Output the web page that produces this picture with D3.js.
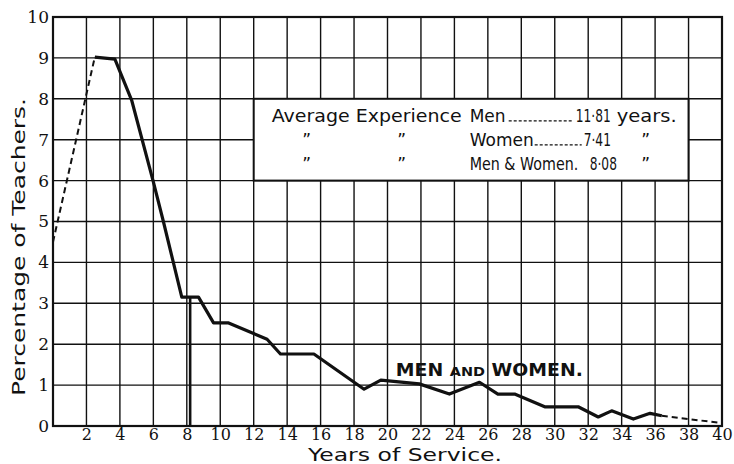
<!DOCTYPE html>
<html>
<head>
<meta charset="utf-8">
<script src="https://cdn.jsdelivr.net/npm/d3@7"></script>
<style>
  body { margin: 0; background: #fff; }
  svg { display: block; }
</style>
</head>
<body>
<div id="chart"></div>
<script>
// years of service vs percentage of teachers (men and women)
const leadYears = [0, 2.5]
const leadValues = [4.5, 9.02]

const years = [2.5, 3.7, 4.7, 6.0, 6.6, 7.7, 8.7, 9.6, 10.5, 12.8, 13.6, 15.6, 18.6, 19.6,
  21.9, 23.7, 25.5, 26.6, 27.6, 29.4, 31.4, 32.6, 33.4, 34.7, 35.7, 36.4]
const values = [9.02, 8.97, 7.97, 5.97, 5.0, 3.15, 3.15, 2.52, 2.52, 2.12, 1.76, 1.76, 0.9, 1.12,
  1.03, 0.78, 1.07, 0.78, 0.78, 0.47, 0.47, 0.22, 0.37, 0.17, 0.31, 0.25]

const tailYears = [36.4, 40]
const tailValues = [0.25, 0.07]

const averageMark = { year: 8.2, value: 3.15 }

const xTicks = d3.range(2, 41, 2)
const yTicks = d3.range(0, 11, 1)

const groupNames = ['Men', 'Women', 'Men & Women.']
const averages = ['11·81', '7·41', '8·08']
const units = ['years.', '”', '”']

const width = 734, height = 464
const ink = '#111'
const svg = d3.select('#chart').append('svg')
  .attr('width', width).attr('height', height)

const x = d3.scaleLinear().domain([0, 40]).range([53, 722])
const y = d3.scaleLinear().domain([0, 10]).range([426, 17])

// grid
const grid = svg.append('g').attr('stroke', ink).attr('stroke-width', 1.4)
grid.selectAll('line.v').data(xTicks.filter(d => d < 40)).enter().append('line')
  .attr('x1', d => x(d)).attr('x2', d => x(d))
  .attr('y1', y(0)).attr('y2', y(10))
grid.selectAll('line.h').data(yTicks.filter(d => d > 0 && d < 10)).enter().append('line')
  .attr('x1', x(0)).attr('x2', x(40))
  .attr('y1', d => y(d)).attr('y2', d => y(d))

svg.append('rect')
  .attr('x', x(0)).attr('y', y(10))
  .attr('width', x(40) - x(0)).attr('height', y(0) - y(10))
  .attr('fill', 'none').attr('stroke', ink).attr('stroke-width', 2.2)

// axes (labels only)
const xAxis = d3.axisBottom(x).tickValues(xTicks).tickSize(0).tickPadding(3)
const gx = svg.append('g').attr('transform', `translate(0,${y(0)})`).call(xAxis)
gx.select('.domain').remove()
gx.selectAll('text').attr('font-size', 16).attr('fill', ink)
  .attr('font-family', '"DejaVu Serif", serif')

const yAxis = d3.axisLeft(y).tickValues(yTicks).tickSize(0).tickPadding(4)
const gy = svg.append('g').attr('transform', `translate(${x(0)},0)`).call(yAxis)
gy.select('.domain').remove()
gy.selectAll('text').attr('font-size', 17).attr('fill', ink)
  .attr('font-family', '"DejaVu Serif", serif')

svg.append('text')
  .attr('transform', `translate(25,247) rotate(-90)`)
  .attr('text-anchor', 'middle')
  .attr('font-family', '"DejaVu Sans", sans-serif').attr('font-size', 17)
  .attr('textLength', 298).attr('lengthAdjust', 'spacingAndGlyphs')
  .attr('fill', ink)
  .text('Percentage of Teachers.')

svg.append('text')
  .attr('x', 405).attr('y', 461)
  .attr('text-anchor', 'middle')
  .attr('font-family', '"DejaVu Sans", sans-serif').attr('font-size', 17)
  .attr('textLength', 194).attr('lengthAdjust', 'spacingAndGlyphs')
  .attr('fill', ink)
  .text('Years of Service.')

// average box
const bx0 = x(12), bx1 = x(38), by0 = y(8), by1 = y(6)
svg.append('rect')
  .attr('x', bx0).attr('y', by0).attr('width', bx1 - bx0).attr('height', by1 - by0)
  .attr('fill', '#fff').attr('stroke', ink).attr('stroke-width', 2)

const boxText = svg.append('g')
  .attr('font-family', '"DejaVu Sans", sans-serif')
  .attr('font-size', 17).attr('fill', ink)
const rowY = [by0 + 23, by0 + 47, by0 + 71]
const nameW = [36, 62, 110]
const nameScale = [1, 1, 0.84]
const numX = [bx0 + 322, bx0 + 330, bx0 + 336]
boxText.append('text').attr('x', bx0 + 18).attr('y', rowY[0])
  .attr('textLength', 190).attr('lengthAdjust', 'spacingAndGlyphs').text('Average Experience')
groupNames.forEach((n, i) => {
  if (i > 0) {
    boxText.append('text').attr('x', bx0 + 53).attr('y', rowY[i]).attr('text-anchor', 'middle').text('”')
    boxText.append('text').attr('x', bx0 + 148).attr('y', rowY[i]).attr('text-anchor', 'middle').text('”')
  }
  boxText.append('text')
    .attr('transform', `translate(${bx0 + 216},${rowY[i]}) scale(${nameScale[i]},1)`)
    .text(n)
  if (i < 2) {
    svg.append('line')
      .attr('x1', bx0 + 216 + nameW[i] + 3).attr('x2', numX[i] - 2)
      .attr('y1', rowY[i] - 1).attr('y2', rowY[i] - 1)
      .attr('stroke', ink).attr('stroke-width', 1.3).attr('stroke-dasharray', '3,2')
  }
  // condensed figures, as in the printed table
  boxText.append('text')
    .attr('transform', `translate(${numX[i]},${rowY[i]}) scale(0.72,1)`)
    .text(averages[i])
  if (i === 0) {
    boxText.append('text')
      .attr('transform', `translate(${bx0 + 363},${rowY[i]}) scale(1.15,1)`)
      .text(units[i])
  } else {
    boxText.append('text').attr('x', bx0 + 392).attr('y', rowY[i]).attr('text-anchor', 'middle').text(units[i])
  }
})

// series
const line = d3.line().x(d => x(d[0])).y(d => y(d[1]))

svg.append('path')
  .datum(d3.zip(leadYears, leadValues))
  .attr('d', line).attr('fill', 'none')
  .attr('stroke', ink).attr('stroke-width', 2).attr('stroke-dasharray', '6,4')

svg.append('path')
  .datum(d3.zip(tailYears, tailValues))
  .attr('d', line).attr('fill', 'none')
  .attr('stroke', ink).attr('stroke-width', 2).attr('stroke-dasharray', '6,4')

svg.append('path')
  .datum(d3.zip(years, values))
  .attr('d', line).attr('fill', 'none')
  .attr('stroke', ink).attr('stroke-width', 3.2)
  .attr('stroke-linejoin', 'round')

svg.append('line')
  .attr('x1', x(averageMark.year)).attr('x2', x(averageMark.year))
  .attr('y1', y(0)).attr('y2', y(averageMark.value))
  .attr('stroke', ink).attr('stroke-width', 2.6)

const lbl = svg.append('text')
  .attr('x', x(20.5)).attr('y', y(1.22))
  .attr('font-family', '"DejaVu Sans", sans-serif').attr('fill', ink)
  .attr('font-size', 17).attr('font-weight', 600)
  .attr('textLength', 187).attr('lengthAdjust', 'spacingAndGlyphs')
lbl.append('tspan').text('MEN ')
lbl.append('tspan').attr('font-size', 13).text('AND')
lbl.append('tspan').text(' WOMEN.')
</script>
</body>
</html>
